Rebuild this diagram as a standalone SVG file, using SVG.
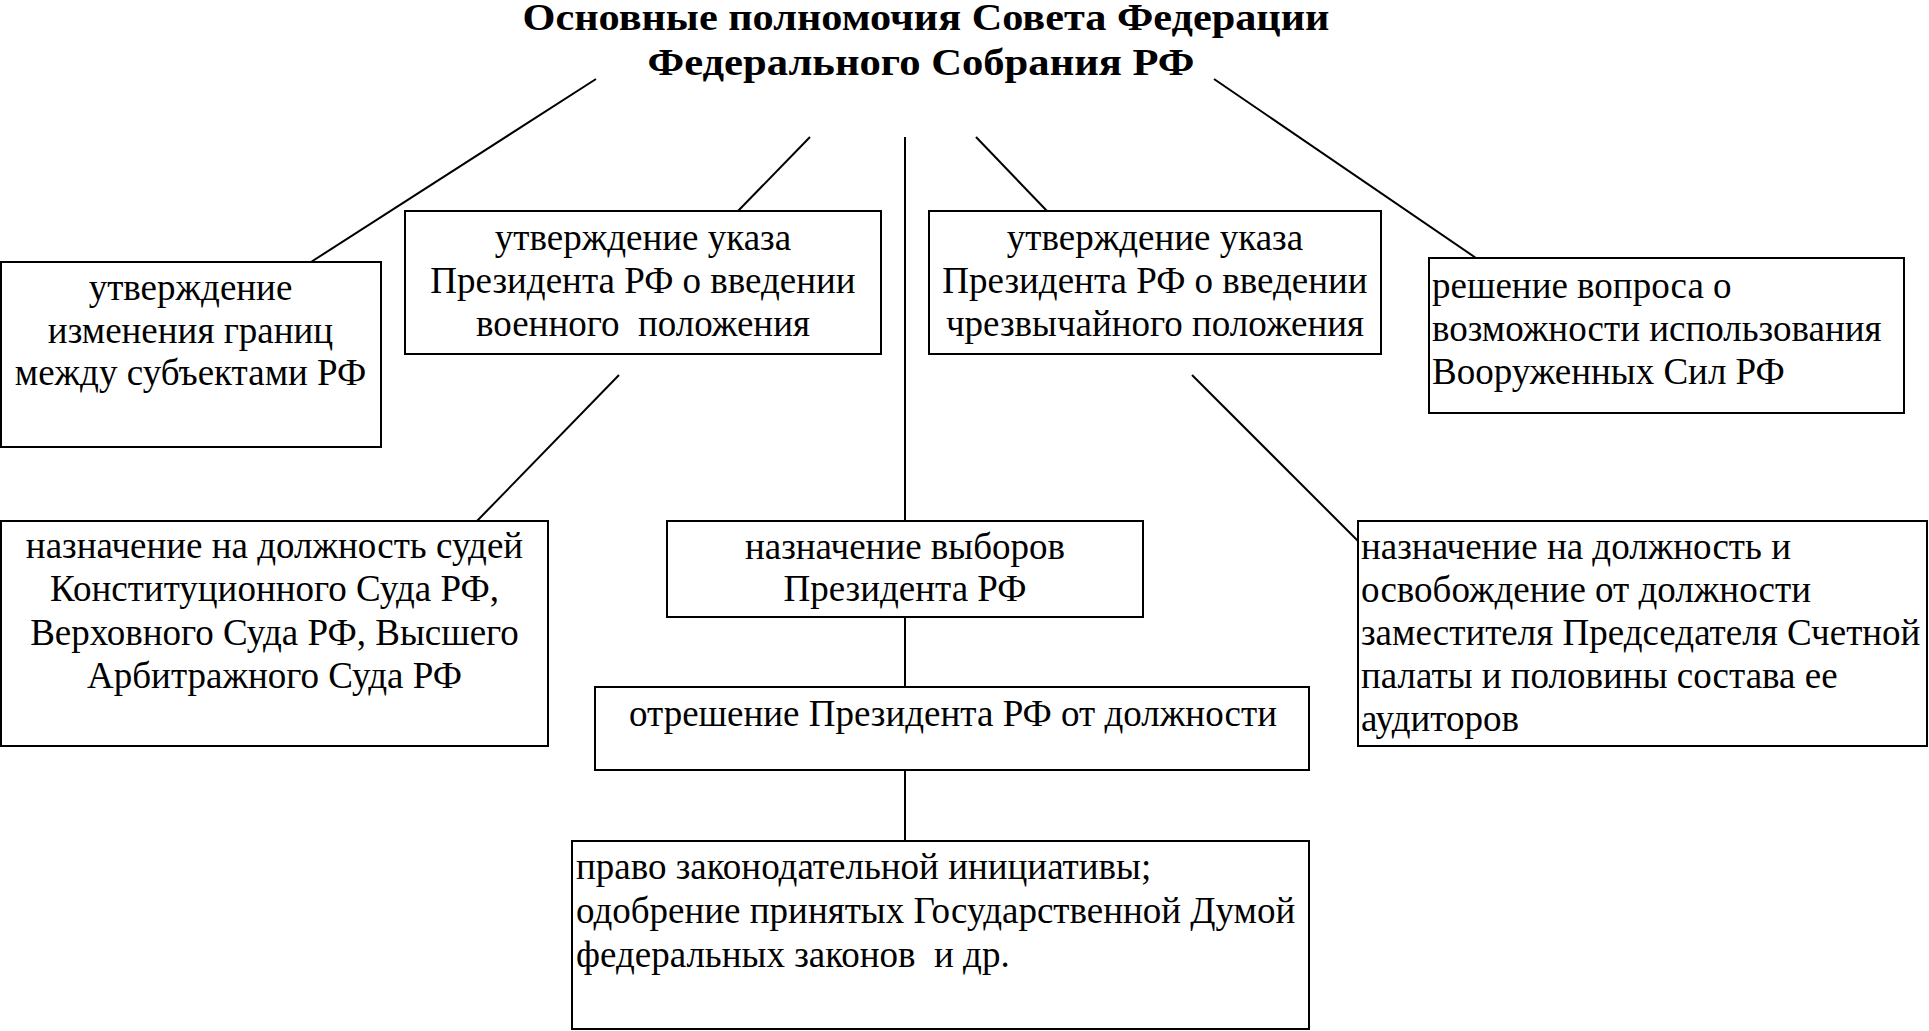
<svg xmlns="http://www.w3.org/2000/svg" width="1929" height="1031" viewBox="0 0 1929 1031">
<style>
.bg{fill:#ffffff}
.box{fill:#ffffff;stroke:#000000;stroke-width:2}
.ln{stroke:#000000;stroke-width:2;fill:none}
text{font-family:"Liberation Serif","Times New Roman",serif;font-size:37px;fill:#000000;white-space:pre}
.c{text-anchor:middle}
.t{font-weight:bold;font-size:37px}
</style>
<rect class="bg" x="0" y="0" width="1929" height="1031"/>
<g id="title">
<text class="t c" x="926" y="30" textLength="807" lengthAdjust="spacingAndGlyphs">Основные полномочия Совета Федерации</text>
<text class="t c" x="921" y="75" textLength="547" lengthAdjust="spacingAndGlyphs">Федерального Собрания РФ</text>
</g>
<g id="connectors">
<line class="ln" x1="596" y1="79" x2="311" y2="262"/>
<line class="ln" x1="810" y1="137" x2="738" y2="211"/>
<line class="ln" x1="905" y1="137" x2="905" y2="521"/>
<line class="ln" x1="976" y1="137" x2="1047" y2="211"/>
<line class="ln" x1="1214" y1="79" x2="1476" y2="258"/>
<line class="ln" x1="619" y1="375" x2="477" y2="521"/>
<line class="ln" x1="1192" y1="375" x2="1358" y2="541"/>
<line class="ln" x1="905" y1="617" x2="905" y2="687"/>
<line class="ln" x1="905" y1="770" x2="905" y2="841"/>
</g>
<g id="n1">
<rect class="box" x="1" y="262" width="380" height="185"/>
<text class="c" x="190.5" y="300">утверждение</text>
<text class="c" x="190.5" y="343">изменения границ</text>
<text class="c" x="190.5" y="385">между субъектами РФ</text>
</g>
<g id="n2">
<rect class="box" x="405" y="211" width="476" height="143"/>
<text class="c" x="643" y="250">утверждение указа</text>
<text class="c" x="643" y="293">Президента РФ о введении</text>
<text class="c" x="643" y="336">военного  положения</text>
</g>
<g id="n3">
<rect class="box" x="929" y="211" width="452" height="143"/>
<text class="c" x="1155" y="250">утверждение указа</text>
<text class="c" x="1155" y="293">Президента РФ о введении</text>
<text class="c" x="1155" y="336">чрезвычайного положения</text>
</g>
<g id="n4">
<rect class="box" x="1429" y="258" width="475" height="155"/>
<text x="1432" y="298">решение вопроса о</text>
<text x="1432" y="341">возможности использования</text>
<text x="1432" y="384">Вооруженных Сил РФ</text>
</g>
<g id="n5">
<rect class="box" x="667" y="521" width="476" height="96"/>
<text class="c" x="905" y="559">назначение выборов</text>
<text class="c" x="905" y="601">Президента РФ</text>
</g>
<g id="n6">
<rect class="box" x="1" y="521" width="547" height="225"/>
<text class="c" x="274.5" y="558">назначение на должность судей</text>
<text class="c" x="274.5" y="601">Конституционного Суда РФ,</text>
<text class="c" x="274.5" y="645">Верховного Суда РФ, Высшего</text>
<text class="c" x="274.5" y="688">Арбитражного Суда РФ</text>
</g>
<g id="n7">
<rect class="box" x="595" y="687" width="714" height="83"/>
<text class="c" x="953" y="726">отрешение Президента РФ от должности</text>
</g>
<g id="n8">
<rect class="box" x="572" y="841" width="737" height="188"/>
<text x="576" y="879">право законодательной инициативы;</text>
<text x="576" y="923">одобрение принятых Государственной Думой</text>
<text x="576" y="967">федеральных законов  и др.</text>
</g>
<g id="n9">
<rect class="box" x="1358" y="521" width="569" height="225"/>
<text x="1361" y="559">назначение на должность и</text>
<text x="1361" y="602">освобождение от должности</text>
<text x="1361" y="645">заместителя Председателя Счетной</text>
<text x="1361" y="688">палаты и половины состава ее</text>
<text x="1361" y="731">аудиторов</text>
</g>
</svg>
